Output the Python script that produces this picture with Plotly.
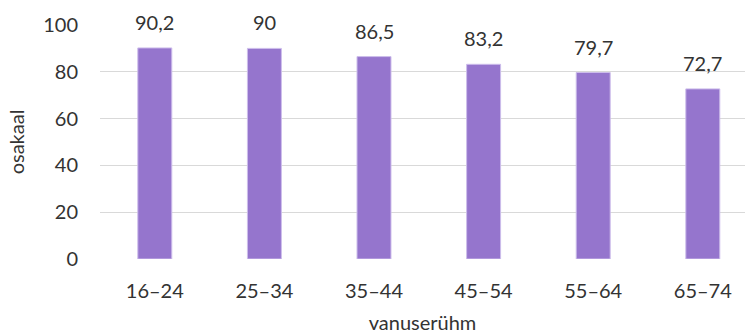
import plotly.graph_objects as go

categories = ["16–24", "25–34", "35–44", "45–54", "55–64", "65–74"]
values = [90.2, 90, 86.5, 83.2, 79.7, 72.7]
y_ticks = [0, 20, 40, 60, 80, 100]

labels = [("%g" % v).replace(".", ",") for v in values]

FONT = "Lato"
TXT = "#333333"

fig = go.Figure()
fig.add_trace(go.Bar(
    x=list(range(len(categories))),
    y=values,
    width=0.31,
    marker=dict(color="#9575CD", line=dict(color="#CDBDEB", width=1)),
    hoverinfo="skip",
))

for i, (v, t) in enumerate(zip(values, labels)):
    fig.add_annotation(x=i, y=v, text=t, showarrow=False, yanchor="bottom",
                       yshift=12, font=dict(family=FONT, size=20, color=TXT))

fig.update_layout(
    width=745, height=334,
    margin=dict(l=100, r=0, t=25, b=75),
    plot_bgcolor="white", paper_bgcolor="white",
    showlegend=False,
    font=dict(family=FONT, size=20, color=TXT),
)
fig.update_xaxes(
    range=[-0.5, 5.385],
    tickmode="array", tickvals=list(range(len(categories))), ticktext=categories,
    showgrid=False, zeroline=False, showline=False,
    ticklabelstandoff=18,
    tickfont=dict(family=FONT, size=20, color=TXT),
    title=dict(text="vanuserühm", font=dict(family=FONT, size=20, color=TXT), standoff=18),
    automargin=False,
)
fig.update_yaxes(
    range=[0, 100],
    tickmode="array", tickvals=y_ticks,
    showgrid=True, gridcolor="#D9D9D9", gridwidth=1.3,
    zeroline=False, showline=False,
    ticklabelstandoff=21,
    tickfont=dict(family=FONT, size=20, color=TXT),
    title=dict(text="osakaal", font=dict(family=FONT, size=20, color=TXT), standoff=13),
    automargin=False,
)

fig.write_html("out.html", config={"displayModeBar": False},
               post_script="document.body.style.margin='0';document.body.style.overflow='hidden';")
